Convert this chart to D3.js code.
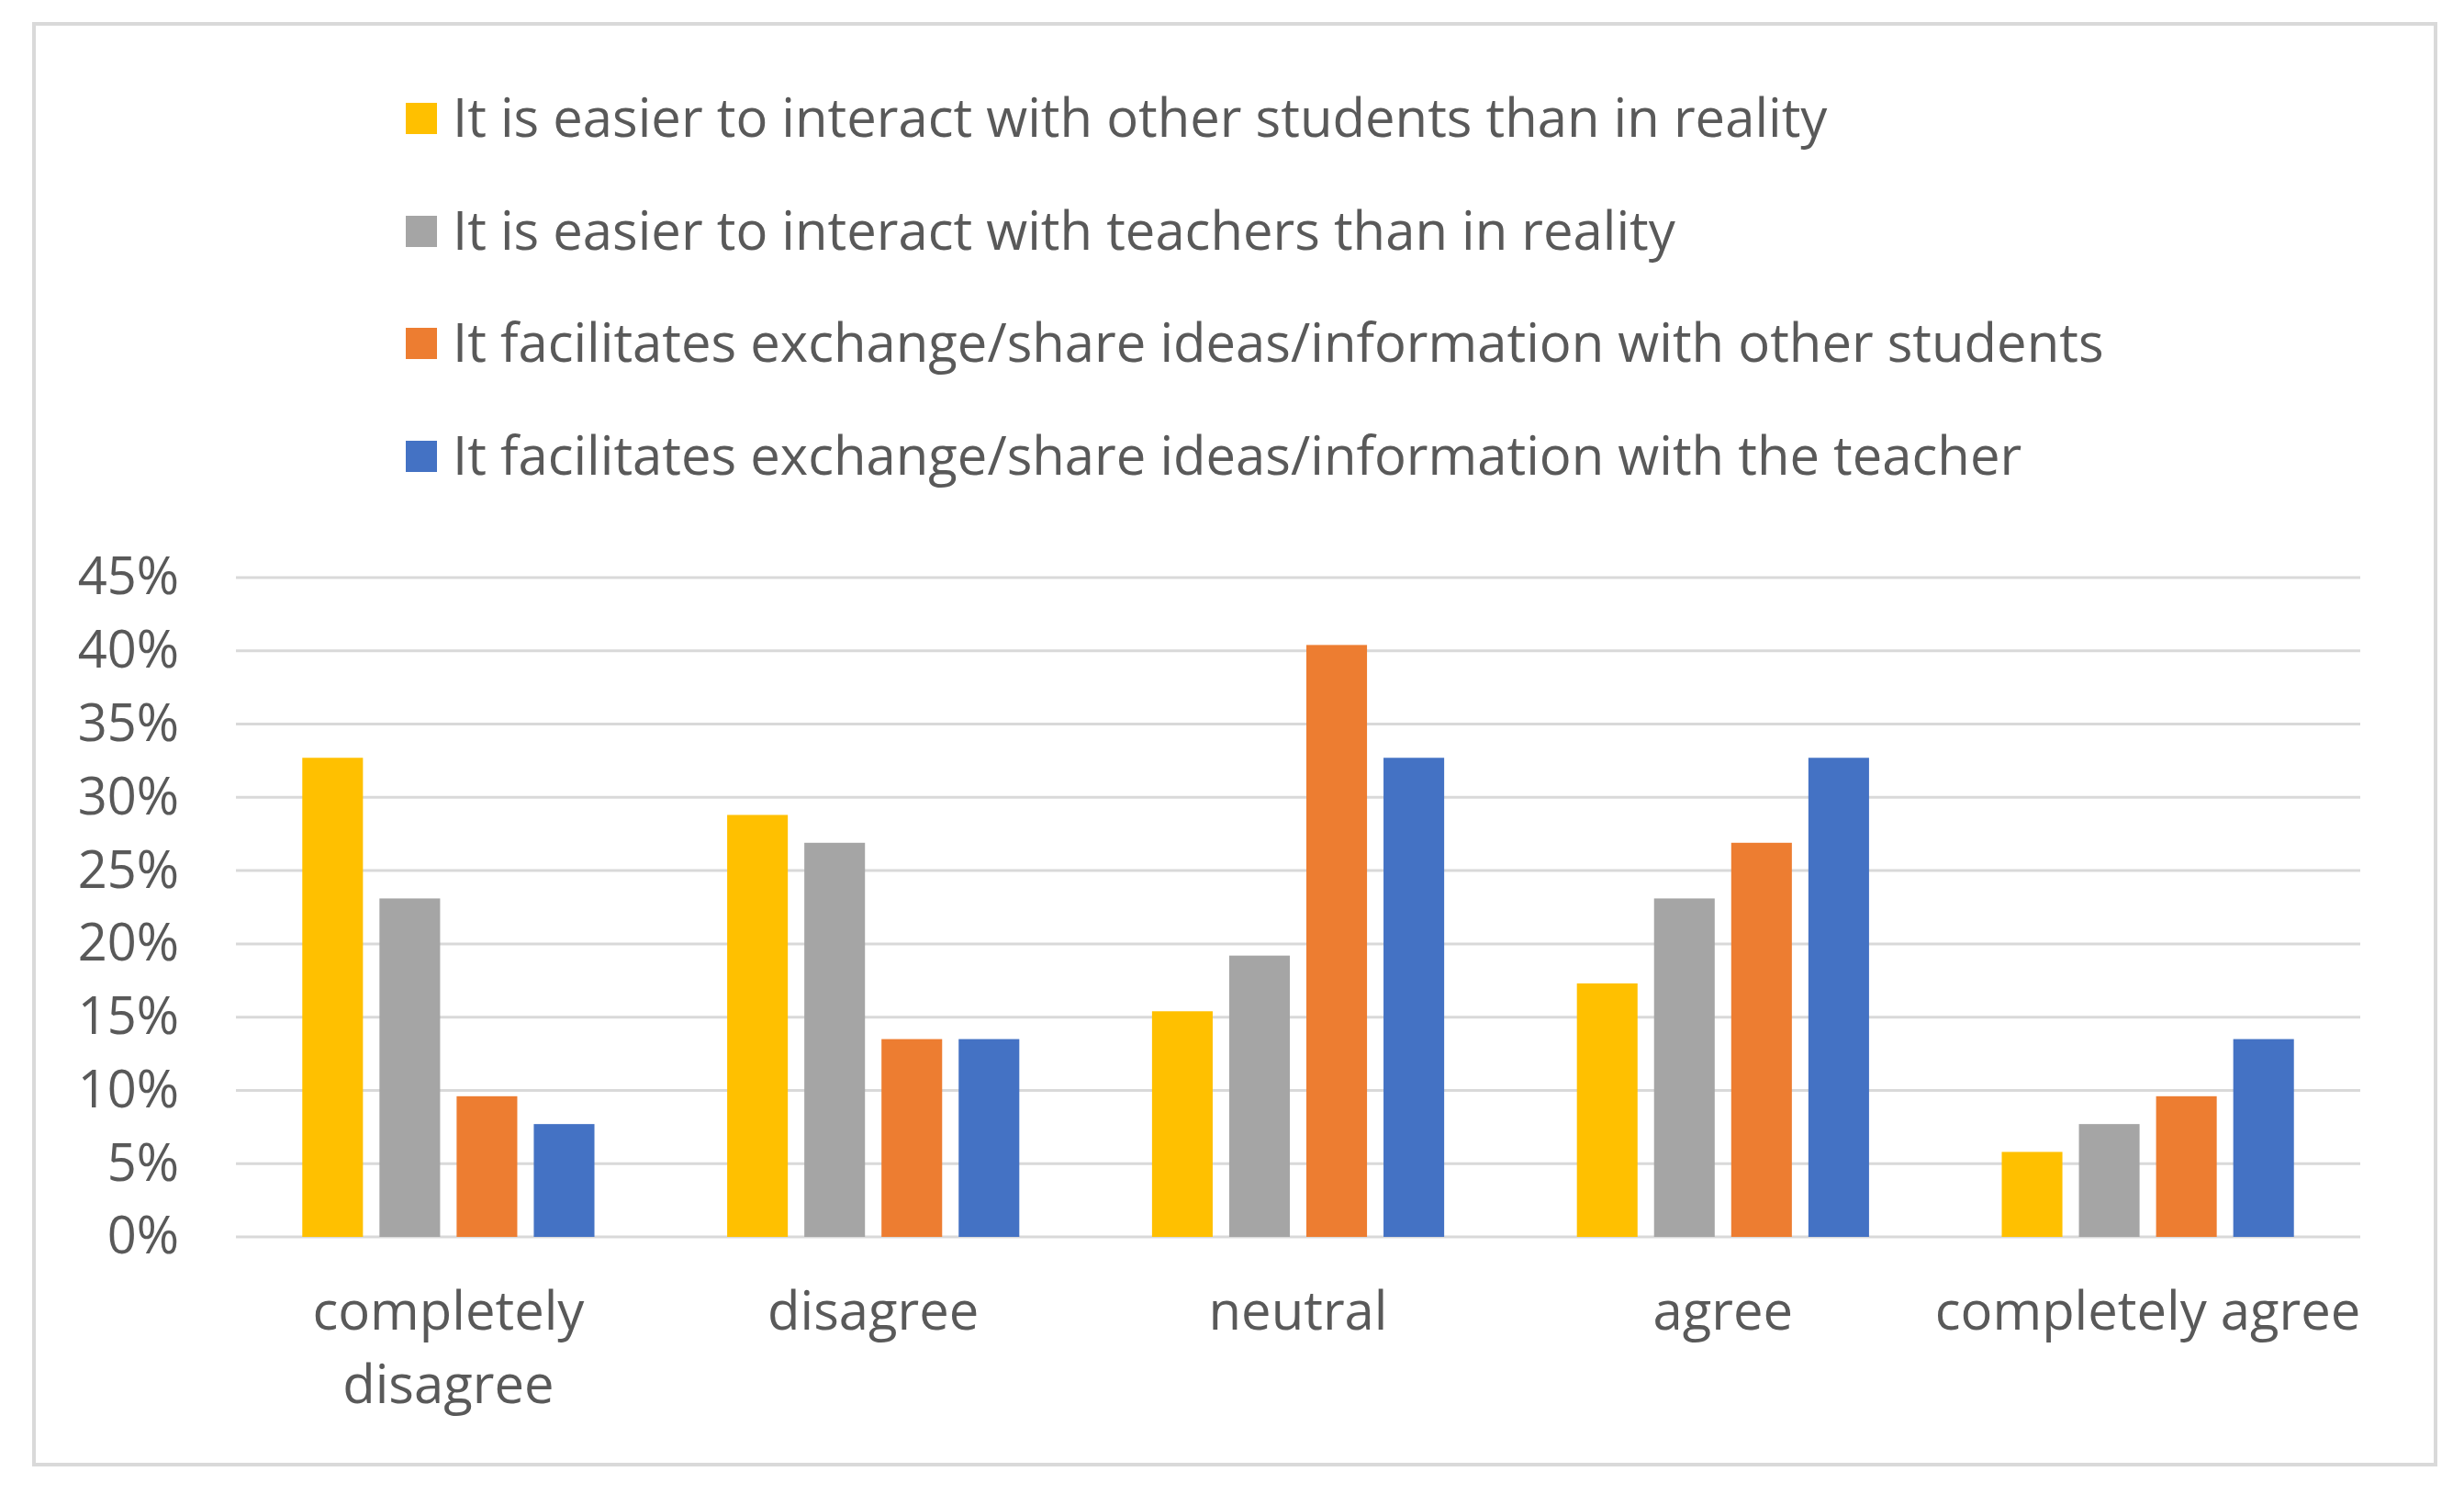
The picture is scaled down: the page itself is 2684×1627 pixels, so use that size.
<!DOCTYPE html>
<html>
<head>
<meta charset="utf-8">
<script src="https://cdn.jsdelivr.net/npm/d3@7"></script>
<style>
  body { margin: 0; background: #fff; }
  svg { display: block; font-family: "Open Sans", Lato, sans-serif; }
</style>
</head>
<body>
<div id="chart"></div>
<script>
// Data
const categories = ["completely disagree", "disagree", "neutral", "agree", "completely agree"];
const seriesNames = [
  "It is easier to interact with other students than in reality",
  "It is easier to interact with teachers than in reality",
  "It facilitates exchange/share ideas/information with other students",
  "It facilitates exchange/share ideas/information with the teacher"
];
const seriesColors = ["#ffc000", "#a5a5a5", "#ed7d31", "#4472c4"];
const otherStudents = [32.7, 28.8, 15.4, 17.3, 5.8];
const teachers = [23.1, 26.9, 19.2, 23.1, 7.7];
const exchangeStudents = [9.6, 13.5, 40.4, 26.9, 9.6];
const exchangeTeacher = [7.7, 13.5, 32.7, 32.7, 13.5];
const yTicks = [0, 5, 10, 15, 20, 25, 30, 35, 40, 45];

const seriesValues = [otherStudents, teachers, exchangeStudents, exchangeTeacher];

// Dimensions
const W = 2684, H = 1627;
const plot = { left: 257, right: 2571, top: 629, bottom: 1347 };
const textColor = "#595959";
const gridColor = "#d9d9d9";
const tickFontSize = 56;
const labelFontSize = 58;

const svg = d3.select("#chart")
  .append("svg")
  .attr("width", W)
  .attr("height", H)
  .attr("viewBox", [0, 0, W, H]);

svg.append("rect").attr("width", W).attr("height", H).attr("fill", "#fff");

// Chart border
svg.append("rect")
  .attr("x", 37)
  .attr("y", 26)
  .attr("width", 2653 - 37)
  .attr("height", 1595 - 26)
  .attr("fill", "none")
  .attr("stroke", gridColor)
  .attr("stroke-width", 4);

// Scales
const x0 = d3.scaleBand().domain(categories).range([plot.left, plot.right]);
const x1 = d3.scaleBand()
  .domain(d3.range(seriesNames.length))
  .range([0, x0.bandwidth()])
  .paddingInner(0.214)
  .paddingOuter(0.86);
const y = d3.scaleLinear().domain([0, 45]).range([plot.bottom, plot.top]);

// Gridlines
svg.append("g")
  .selectAll("line")
  .data(yTicks)
  .join("line")
  .attr("x1", plot.left)
  .attr("x2", plot.right)
  .attr("y1", (d) => y(d))
  .attr("y2", (d) => y(d))
  .attr("stroke", gridColor)
  .attr("stroke-width", 3);

// Bars
const flat = [];
categories.forEach((c, ci) => {
  seriesValues.forEach((vals, si) => {
    flat.push({ cat: c, series: si, value: vals[ci] });
  });
});

svg.append("g")
  .selectAll("rect")
  .data(flat)
  .join("rect")
  .attr("x", (d) => x0(d.cat) + x1(d.series))
  .attr("y", (d) => y(d.value))
  .attr("width", x1.bandwidth())
  .attr("height", (d) => y(0) - y(d.value))
  .attr("fill", (d) => seriesColors[d.series]);

// Y axis labels
const yAxis = svg.append("g")
  .attr("transform", `translate(${plot.left - 62},0)`)
  .call(d3.axisLeft(y).tickValues(yTicks).tickFormat((d) => d + "%").tickSize(0).tickPadding(0));
yAxis.select(".domain").remove();
yAxis.selectAll("text")
  .attr("fill", textColor)
  .style("font-size", tickFontSize + "px")
  .style("font-family", "'Open Sans', sans-serif");

// X axis labels (wrap "completely disagree")
const xLabels = svg.append("g");
categories.forEach((c) => {
  const lines = c === "completely disagree" ? ["completely", "disagree"] : [c];
  const t = xLabels.append("text")
    .attr("x", x0(c) + x0.bandwidth() / 2)
    .attr("y", 1448)
    .attr("text-anchor", "middle")
    .attr("fill", textColor)
    .style("font-size", labelFontSize + "px");
  lines.forEach((ln, i) => {
    t.append("tspan")
      .attr("x", x0(c) + x0.bandwidth() / 2)
      .attr("dy", i === 0 ? 0 : 80)
      .text(ln);
  });
});

// Legend
const legend = svg.append("g").attr("transform", "translate(442,0)");
const legendY = [129, 252, 374, 497];
seriesNames.forEach((name, i) => {
  const row = legend.append("g").attr("transform", `translate(0,${legendY[i]})`);
  row.append("rect")
    .attr("x", 0)
    .attr("y", -17)
    .attr("width", 34)
    .attr("height", 34)
    .attr("fill", seriesColors[i]);
  row.append("text")
    .attr("x", 51)
    .attr("y", 0)
    .attr("dy", "0.35em")
    .attr("fill", textColor)
    .style("font-size", labelFontSize + "px")
    .text(name);
});
</script>
</body>
</html>
